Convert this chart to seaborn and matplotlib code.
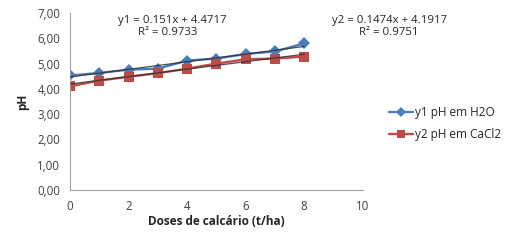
import numpy as np
import pandas as pd
import matplotlib
matplotlib.use('Agg')
import matplotlib.pyplot as plt
import seaborn as sns
from matplotlib.ticker import FuncFormatter

# Data
doses = [0, 1, 2, 3, 4, 5, 6, 7, 8]
ph_h2o = [4.53, 4.63, 4.76, 4.80, 5.12, 5.20, 5.38, 5.48, 5.80]
ph_cacl2 = [4.10, 4.33, 4.48, 4.62, 4.80, 5.00, 5.17, 5.20, 5.28]
series_names = ['y1 pH em H2O', 'y2 pH em CaCl2']
fit_slope = [0.151, 0.1474]
fit_intercept = [4.4717, 4.1917]
fit_r2 = [0.9733, 0.9751]

df = pd.DataFrame({
    'dose': doses * 2,
    'ph': ph_h2o + ph_cacl2,
    'serie': [series_names[0]] * len(doses) + [series_names[1]] * len(doses),
})

sns.set_style('white')
plt.rcParams['font.family'] = ['Open Sans', 'DejaVu Sans']

fig = plt.figure(figsize=(5.11, 2.42), dpi=100)
ax = fig.add_axes([0.137, 0.215, 0.573, 0.731])

colors = {series_names[0]: '#4A7EBB', series_names[1]: '#BE4B48'}
sns.lineplot(data=df, x='dose', y='ph', hue='serie', style='serie',
             palette=colors, markers={series_names[0]: 'D', series_names[1]: 's'},
             dashes=False, linewidth=1.7, markersize=7, markeredgewidth=0, ax=ax)
for ln in ax.lines:
    if ln.get_marker() == 'D':
        ln.set_markersize(6)

# linear trendlines
xs = np.array([doses[0], doses[-1]])
for i in range(2):
    ax.plot(xs, fit_slope[i] * xs + fit_intercept[i], color='#303030',
            linewidth=0.9, alpha=0.85, zorder=3)

ax.set_xlim(0, 10)
ax.set_ylim(0, 7)
ax.set_xticks(range(0, 11, 2))
ax.set_yticks(range(0, 8))
ax.yaxis.set_major_formatter(FuncFormatter(lambda v, p: f'{v:.2f}'.replace('.', ',')))

for s in ['top', 'right']:
    ax.spines[s].set_visible(False)
for s in ['left', 'bottom']:
    ax.spines[s].set_color('#A0A0A0')
    ax.spines[s].set_linewidth(0.8)
ax.tick_params(axis='both', length=3, width=0.8, color='#A0A0A0',
               labelsize=8.3, labelcolor='#404040', direction='out', pad=4)

ax.set_xlabel('Doses de calcário (t/ha)', fontsize=8.5, fontweight='bold', labelpad=2)
ax.set_ylabel('pH', fontsize=8.5, fontweight='bold', labelpad=6)

# equation labels
fig.text(0.337, 0.917, f'y1 = {fit_slope[0]}x + {fit_intercept[0]}', fontsize=8.2, ha='center', va='center')
fig.text(0.328, 0.864, f'R² = {fit_r2[0]}', fontsize=8.2, ha='center', va='center')
fig.text(0.763, 0.917, f'y2 = {fit_slope[1]}x + {fit_intercept[1]}', fontsize=8.2, ha='center', va='center')
fig.text(0.761, 0.864, f'R² = {fit_r2[1]}', fontsize=8.2, ha='center', va='center')

ax.legend(title=None, loc='upper left', bbox_to_anchor=(1.074, 0.50), frameon=False,
          fontsize=8.5, handlelength=2.0, handletextpad=0.2, labelspacing=0.75,
          borderaxespad=0, markerscale=0.8)

fig.savefig('out.png', dpi=100)
